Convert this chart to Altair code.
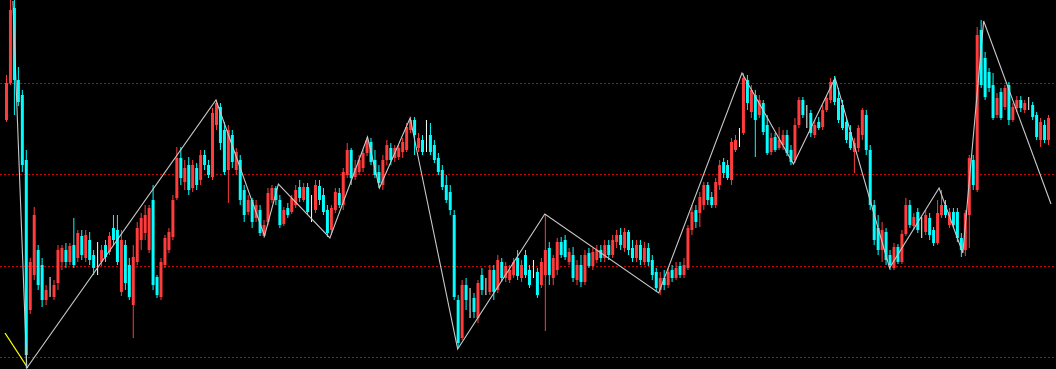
import altair as alt
import pandas as pd
import numpy as np

# Candle prices (price units: chart runs 0..369)
opens = [249,286,361,289,274,209,59,94,119,104,
 69,81,72,86,107,119,107,124,111,133,
 111,129,114,107,107,124,117,141,139,77,
 124,104,64,107,129,136,119,169,92,72,
 104,119,132,171,211,187,204,181,201,189,
 214,204,192,244,262,239,199,234,199,209,
 179,157,169,151,159,133,147,169,181,169,
 145,161,157,164,182,169,182,164,159,183,
 174,159,139,159,176,164,194,219,192,197,
 201,216,227,209,197,184,209,221,211,212,
 217,219,239,249,221,229,221,234,224,211,
 199,184,177,154,69,31,84,71,71,51,
 94,84,77,99,79,107,91,89,94,111,
 91,114,99,101,97,84,94,121,91,99,
 127,129,107,114,89,104,87,116,103,109,
 119,111,124,114,127,134,121,137,121,111,
 124,107,121,109,97,79,91,84,99,91,
 103,94,101,139,159,156,164,184,172,164,
 184,207,204,189,219,229,236,289,257,274,
 254,266,244,217,232,221,224,234,219,209,
 244,269,256,256,234,247,242,259,269,289,
 271,264,247,237,217,221,234,254,219,164,
 141,119,137,114,101,122,107,135,164,143,
 157,144,137,151,139,126,154,164,144,157,
 157,131,119,154,209,179,339,311,297,284,
 254,277,262,284,249,261,269,259,265,264,
 254,229,244,229]
closes = [286,359,289,267,204,14,107,154,84,69,
 79,81,84,119,121,107,123,104,136,114,
 134,109,101,107,119,112,133,129,107,129,
 86,72,112,141,151,154,161,84,74,107,
 131,137,169,211,191,201,179,204,184,214,
 204,194,256,266,226,197,239,207,217,169,
 154,169,147,164,136,144,176,181,169,144,
 159,154,171,179,171,182,157,164,184,169,
 157,136,161,177,164,197,219,191,201,209,
 216,229,207,194,186,209,224,209,221,221,
 227,242,249,234,231,217,221,217,209,197,
 182,169,159,72,26,84,69,71,57,86,
 79,84,99,77,109,91,103,99,107,93,
 104,94,84,101,74,107,119,94,111,127,
 114,112,117,91,104,87,114,103,117,119,
 111,124,114,129,134,124,137,119,111,124,
 109,121,107,94,81,91,84,97,91,101,
 94,104,141,157,147,172,184,169,164,187,
 204,196,191,227,229,229,291,266,279,249,
 269,237,216,231,219,229,234,216,207,244,
 269,254,256,236,244,241,259,271,287,267,
 249,241,229,221,226,241,259,219,164,129,
 119,139,109,104,122,107,135,164,144,152,
 139,144,154,134,126,156,164,154,157,144,
 131,119,156,211,184,334,284,272,281,251,
 271,251,281,249,262,269,261,266,265,252,
 232,247,229,251]
highs = [294,369,369,302,279,219,111,162,124,111,
 84,92,89,124,124,126,126,151,139,139,
 139,137,119,127,124,129,137,154,154,139,
 129,111,124,147,156,164,164,184,94,111,
 134,141,174,222,222,209,212,209,206,219,
 219,209,261,269,266,247,244,239,221,214,
 184,174,171,169,164,149,181,184,183,174,
 162,166,174,184,189,186,186,174,189,189,
 181,164,164,181,181,201,226,221,209,214,
 219,232,231,219,204,214,229,226,224,224,
 231,246,252,252,236,234,249,246,229,216,
 204,194,184,159,74,89,91,81,76,89,
 101,91,104,104,114,111,107,104,111,119,
 109,119,104,109,101,111,155,127,114,131,
 132,134,121,122,109,114,119,121,121,124,
 124,129,129,134,139,141,141,139,129,129,
 129,127,126,114,101,97,99,101,104,107,
 107,111,144,164,164,177,187,187,177,191,
 209,211,209,231,234,241,296,294,284,279,
 274,269,254,236,236,242,239,239,224,251,
 272,272,264,259,249,252,264,274,291,293,
 281,269,251,244,231,244,261,259,224,169,
 154,147,141,119,126,125,139,171,169,156,
 161,152,159,156,142,169,179,169,161,161,
 161,136,159,214,214,342,349,317,301,296,
 276,281,284,287,266,273,273,269,272,267,
 257,251,249,254]
lows = [247,284,254,263,197,1,55,89,79,62,
 64,72,69,79,99,101,104,101,107,109,
 107,104,94,94,103,107,114,124,104,73,
 79,69,31,104,119,129,116,79,71,69,
 101,116,129,169,184,179,174,177,179,184,
 199,191,189,239,219,194,166,201,194,164,
 147,154,141,147,133,131,144,166,164,141,
 143,151,155,161,167,167,154,147,156,164,
 154,132,134,156,161,159,191,184,189,194,
 197,213,204,191,181,179,204,204,207,209,
 211,217,236,214,217,214,217,214,206,194,
 179,166,154,69,21,29,59,51,51,46,
 74,74,74,69,76,87,87,86,91,89,
 87,91,81,91,71,81,38,84,84,94,
 111,109,104,87,84,82,84,101,99,106,
 107,107,109,111,121,119,117,114,107,107,
 104,104,103,89,77,74,79,81,87,89,
 91,91,99,134,141,142,159,164,161,161,
 179,191,189,184,217,222,234,259,251,212,
 251,234,214,214,217,219,219,213,204,206,
 241,251,241,232,231,239,239,257,266,264,
 246,239,226,219,196,217,229,214,159,124,
 114,107,104,99,99,105,105,133,141,139,
 136,131,134,129,123,124,151,151,141,141,
 127,112,113,121,179,177,281,269,277,249,
 251,249,259,244,247,257,257,256,259,249,
 229,222,226,224]

# Zigzag swing points (bar position, price)
zz_x = [2.0, 5.5, 53.25, 65.5, 69.0, 82.0, 91.5, 94.5, 102.25, 114.25,
        136.25, 165.0, 186.0, 199.0, 209.5, 223.25, 235.75, 241.75, 247.0, 264.0]
zz_p = [368, 1, 269, 133, 185, 131, 232, 181, 251, 20,
        155, 76, 296, 205, 291, 101, 181, 116, 348, 165]

# Higher-level swing segment (yellow)
yz_x = [0.0, 5.75]
yz_p = [36, 1]

# Horizontal price levels
levels = [286, 195, 103, 12]

n = len(opens)
df = pd.DataFrame({
    "t": np.arange(n) + 0.5,
    "open": opens, "close": closes, "high": highs, "low": lows,
})
df["dir"] = np.where(df["close"] > df["open"], "up",
                     np.where(df["close"] < df["open"], "down", "flat"))

xs = alt.Scale(domain=[0, 264], nice=False, zero=False)
ys = alt.Scale(domain=[0, 369], nice=False, zero=False)
cscale = alt.Scale(domain=["up", "down", "flat"], range=["#FF3B3B", "#00FFFF", "#FFFFFF"])

base = alt.Chart(df)
wicks = base.mark_rule(strokeWidth=1, xOffset=-0.5).encode(
    x=alt.X("t:Q", scale=xs, axis=None),
    y=alt.Y("low:Q", scale=ys, axis=None),
    y2="high:Q",
    color=alt.Color("dir:N", scale=cscale, legend=None),
)
bodies = base.mark_bar(size=3, xOffset=-0.5).encode(
    x=alt.X("t:Q", scale=xs, axis=None),
    y=alt.Y("open:Q", scale=ys, axis=None),
    y2="close:Q",
    color=alt.Color("dir:N", scale=cscale, legend=None),
)

lv = alt.Chart(pd.DataFrame({"p": levels})).mark_rule(
    color="#D00000", strokeWidth=1, strokeDash=[2, 2], yOffset=0.5
).encode(
    x=alt.value(0), x2=alt.value(1056),
    y=alt.Y("p:Q", scale=ys, axis=None),
)

zz = alt.Chart(pd.DataFrame({"x": zz_x, "p": zz_p, "k": range(len(zz_x))})).mark_line(
    color="#C8C8C8", strokeWidth=1.1
).encode(
    x=alt.X("x:Q", scale=xs, axis=None),
    y=alt.Y("p:Q", scale=ys, axis=None),
    order="k:Q",
)

yz = alt.Chart(pd.DataFrame({"x": yz_x, "p": yz_p})).mark_line(
    color="#FFFF00", strokeWidth=1.3
).encode(
    x=alt.X("x:Q", scale=xs, axis=None),
    y=alt.Y("p:Q", scale=ys, axis=None),
)

chart = alt.layer(lv, yz, wicks, bodies, zz).properties(
    width=1056, height=369, background="black", padding=0,
    autosize=alt.AutoSizeParams(type="none"),
).configure_view(stroke=None)

chart.save("out.html", embed_options={"renderer": "svg", "actions": False})
